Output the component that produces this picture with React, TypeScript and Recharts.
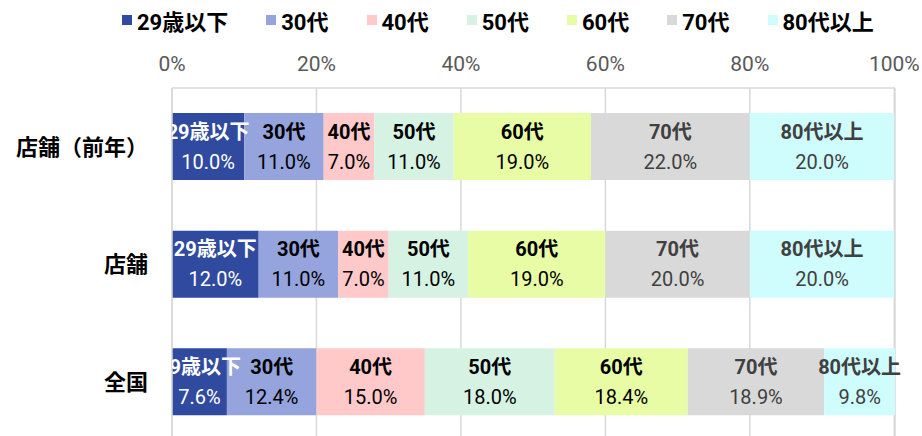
import React from 'react';
import { BarChart, Bar, XAxis, YAxis, CartesianGrid, Legend, LabelList } from 'recharts';

const categories = ['店舗（前年）', '店舗', '全国'];
const seriesNames = ['29歳以下', '30代', '40代', '50代', '60代', '70代', '80代以上'];

const under29 = [10.0, 12.0, 7.6];
const age30 = [11.0, 11.0, 12.4];
const age40 = [7.0, 7.0, 15.0];
const age50 = [11.0, 11.0, 18.0];
const age60 = [19.0, 19.0, 18.4];
const age70 = [22.0, 20.0, 18.9];
const over80 = [20.0, 20.0, 9.8];

const xTicks = [0, 20, 40, 60, 80, 100];

const seriesValues = [under29, age30, age40, age50, age60, age70, over80];
const fills = ['#2F4A9E', '#95A4DC', '#FFC9C9', '#D5F2E3', '#E8FCA5', '#D9D9D9', '#CFFCFC'];
const labelColors = ['#FFFFFF', '#000000', '#000000', '#000000', '#000000', '#404040', '#404040'];

const data = categories.map((name, i) => {
  const row: Record<string, string | number> = { name };
  seriesValues.forEach((vals, s) => {
    row[`s${s}`] = vals[i];
  });
  return row;
});

const NUM = "Roboto, 'Noto Sans CJK JP', sans-serif";
const CJK = "'Noto Sans CJK JP', sans-serif";

function makeLabel(s: number) {
  return (props: any) => {
    const { x, y, width, height, value, index } = props;
    const cx = x + width / 2;
    const cy = y + height / 2;
    const clipId = `clip-${s}-${index}`;
    return (
      <g clipPath={s === 0 ? `url(#${clipId})` : undefined}>
        {s === 0 && (
          <defs>
            <clipPath id={clipId}>
              <rect x={x} y={y - 10} width={2000} height={height + 20} />
            </clipPath>
          </defs>
        )}
        <text x={cx} y={cy - 15} textAnchor="middle" dominantBaseline="central" fill={labelColors[s]}
          style={{ fontFamily: NUM, fontSize: 20, fontWeight: 700 }}>
          {seriesNames[s]}
        </text>
        <text x={cx} y={cy + 15} textAnchor="middle" dominantBaseline="central" fill={labelColors[s]}
          style={{ fontFamily: NUM, fontSize: 20 }}>
          {`${Number(value).toFixed(1)}%`}
        </text>
      </g>
    );
  };
}

function renderLegend() {
  return (
    <div style={{ display: 'flex', paddingLeft: 122, alignItems: 'center', height: 40 }}>
      {seriesNames.map((n, i) => (
        <div key={n} style={{ display: 'flex', alignItems: 'center', marginRight: 38 }}>
          <span style={{ width: 10, height: 10, background: fills[i], display: 'inline-block', marginRight: 5 }} />
          <span style={{ fontFamily: NUM, fontSize: 22, fontWeight: 700, color: '#000' }}>{n}</span>
        </div>
      ))}
    </div>
  );
}

export default function App() {
  return (
    <div style={{ position: 'absolute', left: 0, top: 0, width: 922, height: 436, overflow: 'hidden', background: '#fff' }}>
      <BarChart
        width={922}
        height={441}
        data={data}
        layout="vertical"
        margin={{ top: 8, right: 27, left: 0, bottom: 0 }}
        barSize={67}
      >
        <Legend verticalAlign="top" content={renderLegend} wrapperStyle={{ top: 0, left: 0, width: 922 }} />
        <CartesianGrid horizontal={false} stroke="#D9D9D9" strokeWidth={1.5} />
        <XAxis
          type="number"
          orientation="top"
          domain={[0, 100]}
          ticks={xTicks}
          tickFormatter={(v: number) => `${v}%`}
          axisLine={{ stroke: '#D9D9D9', strokeWidth: 1.5 }}
          tickLine={false}
          tick={{ fill: '#595959', fontSize: 21, fontFamily: NUM }}
          tickMargin={11}
          height={40}
          interval={0}
        />
        <YAxis
          type="category"
          dataKey="name"
          width={172}
          axisLine={{ stroke: '#D9D9D9', strokeWidth: 1.5 }}
          tickLine={false}
          tick={{ fill: '#000', fontSize: 22, fontWeight: 700, fontFamily: CJK }}
          tickMargin={18}
        />
        {seriesNames.map((n, s) => (
          <Bar key={n} dataKey={`s${s}`} name={n} stackId="a" fill={fills[s]} isAnimationActive={false}>
            <LabelList dataKey={`s${s}`} content={makeLabel(s)} />
          </Bar>
        ))}
      </BarChart>
    </div>
  );
}
